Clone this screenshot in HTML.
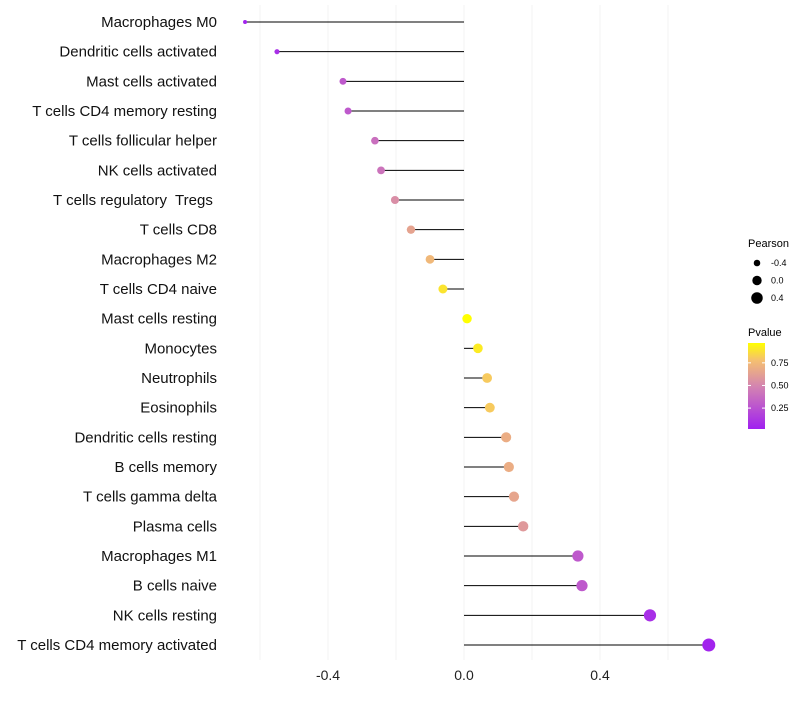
<!DOCTYPE html>
<html><head><meta charset="utf-8"><style>
body{margin:0;background:#fff;font-family:"Liberation Sans",sans-serif}
text{white-space:pre}
</style></head><body>
<svg id="c" width="800" height="700" xmlns="http://www.w3.org/2000/svg">
<defs><linearGradient id="pg" x1="0" y1="1" x2="0" y2="0">
<stop offset="0" stop-color="#a020f0"/><stop offset="0.5" stop-color="#d485b0"/><stop offset="0.8" stop-color="#f5c070"/><stop offset="1" stop-color="#ffff00"/></linearGradient></defs>
<g id="grid"></g><g id="marks"></g><g id="labels"></g><g id="legend"></g>
</svg>
<script>
const categories=["Macrophages M0","Dendritic cells activated","Mast cells activated","T cells CD4 memory resting","T cells follicular helper","NK cells activated","T cells regulatory  Tregs ","T cells CD8","Macrophages M2","T cells CD4 naive","Mast cells resting","Monocytes","Neutrophils","Eosinophils","Dendritic cells resting","B cells memory","T cells gamma delta","Plasma cells","Macrophages M1","B cells naive","NK cells resting","T cells CD4 memory activated"];
const pearson=[-0.644,-0.55,-0.356,-0.341,-0.262,-0.244,-0.203,-0.156,-0.1,-0.062,0.009,0.041,0.068,0.076,0.124,0.132,0.147,0.174,0.335,0.347,0.547,0.72];
const pvalue=[0.05,0.1,0.3,0.3,0.4,0.42,0.55,0.65,0.75,0.9,0.98,0.92,0.82,0.82,0.7,0.7,0.66,0.6,0.3,0.3,0.1,0.05];
const xTicks=[-0.4,0.0,0.4];
const xGrid=[-0.6,-0.4,-0.2,0,0.2,0.4,0.6];
const sizeLegend=[-0.4,0.0,0.4];
const colorTicks=[0.25,0.5,0.75];
const NS="http://www.w3.org/2000/svg";
const xs=v=>464+v*340, ys=i=>22+i*29.667;
const rs=v=>Math.sqrt(Math.max(2.25,22+28*v));
function mk(t,a,p){const e=document.createElementNS(NS,t);for(const k in a)e.setAttribute(k,a[k]);document.getElementById(p).appendChild(e);return e;}
function lerp(a,b,t){return a.map((x,i)=>Math.round(x+(b[i]-x)*t));}
function col(p){const st=[[0,[160,32,240]],[0.5,[212,133,176]],[0.8,[245,192,112]],[1,[255,255,0]]];
 const t=Math.min(1,Math.max(0,(p-0.03)/0.95));for(let i=1;i<st.length;i++){if(t<=st[i][0]){const c=lerp(st[i-1][1],st[i][1],(t-st[i-1][0])/(st[i][0]-st[i-1][0]));return `rgb(${c})`;}}return "rgb(255,255,0)";}
xGrid.forEach(v=>{const g=mk("line",{x1:xs(v),x2:xs(v),y1:5,y2:660,stroke:"#f3f3f3","stroke-width":1},"grid");

});
xTicks.forEach(v=>{const t=mk("text",{x:xs(v),y:680,"font-size":14,"text-anchor":"middle",fill:"#222"},"labels");t.textContent=v.toFixed(1);

});
categories.forEach((c,i)=>{const y=ys(i);
 const l=mk("line",{x1:464,x2:xs(pearson[i]),y1:y,y2:y,stroke:"#000","stroke-width":1},"marks");
 
 
 const d=mk("circle",{cx:xs(pearson[i]),cy:y,r:rs(pearson[i]),fill:col(pvalue[i])},"marks");
 
 
 const t=mk("text",{x:217,y:y+5,"font-size":15,"text-anchor":"end",fill:"#111"},"labels");t.textContent=c;
 
 });
let h=mk("text",{x:748,y:247,"font-size":11,fill:"#000"},"legend");h.textContent="Pearson";


sizeLegend.forEach((v,i)=>{const y=263+i*17.5;const c=mk("circle",{cx:757,cy:y,r:rs(v),fill:"#000"},"legend");


const t=mk("text",{x:771,y:y+3,"font-size":9,fill:"#000"},"legend");t.textContent=v.toFixed(1);

});
h=mk("text",{x:748,y:336,"font-size":11,fill:"#000"},"legend");h.textContent="Pvalue";


const bar=mk("rect",{x:748,y:343,width:17,height:86,fill:"url(#pg)"},"legend");


colorTicks.forEach(v=>{const y=428-(v-0.03)*90.5;
 const t=mk("text",{x:771,y:y+3,"font-size":9,fill:"#000"},"legend");t.textContent=v.toFixed(2);
 
 
 mk("line",{x1:748,x2:751,y1:y,y2:y,stroke:"#fff"},"legend");mk("line",{x1:762,x2:765,y1:y,y2:y,stroke:"#fff"},"legend");});
</script>
</body></html>
